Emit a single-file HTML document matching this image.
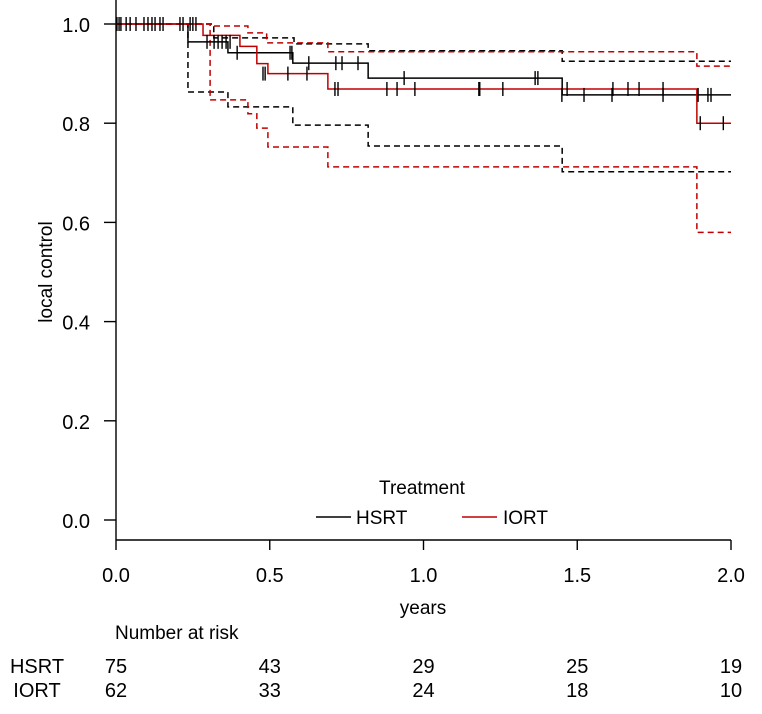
<!DOCTYPE html>
<html><head><meta charset="utf-8"><style>
html,body{margin:0;padding:0;background:#fff}
svg{display:block;font-family:"Liberation Sans",Arial,sans-serif}
</style></head><body>
<svg id="chart" width="762" height="714" viewBox="0 0 762 714">
<g id="axes"></g>
<g id="curves"></g>
<g id="legend">
<text x="422" y="494" font-size="19" text-anchor="middle">Treatment</text>
<line x1="316" y1="517" x2="351" y2="517" stroke="#000" stroke-width="1.4"/>
<text x="356" y="524" font-size="19">HSRT</text>
<line x1="462" y1="517" x2="497" y2="517" stroke="#c00000" stroke-width="1.4"/>
<text x="503" y="524" font-size="19">IORT</text>
</g>
<text transform="translate(52,272) rotate(-90)" font-size="19" text-anchor="middle">local control</text>
<text x="423" y="614" font-size="19" text-anchor="middle">years</text>
<text x="115" y="639" font-size="19">Number at risk</text>
<g id="risk"></g>
</svg>
<script>
const xTicks=[0,0.5,1,1.5,2];
const yTicks=[0,0.2,0.4,0.6,0.8,1.0];
const groups=["HSRT","IORT"];
const riskHSRT=[75,43,29,25,19];
const riskIORT=[62,33,24,18,10];
const hsrtT=[0,0.234,0.364,0.575,0.820,1.451];
const hsrtS=[1.0,0.964,0.942,0.921,0.891,0.857];
const hsrtUpT=[0,0.318,0.579,0.820,1.451];
const hsrtUpS=[1.0,0.972,0.960,0.946,0.925];
const hsrtLoT=[0,0.234,0.364,0.575,0.820,1.451];
const hsrtLoS=[1.0,0.863,0.833,0.796,0.754,0.702];
const iortT=[0,0.283,0.403,0.458,0.494,0.689,1.889];
const iortS=[1.0,0.977,0.955,0.92,0.90,0.869,0.80];
const iortUpT=[0,0.306,0.429,0.49,0.689,1.889];
const iortUpS=[1.0,0.996,0.982,0.962,0.944,0.915];
const iortLoT=[0,0.306,0.429,0.458,0.494,0.689,1.889];
const iortLoS=[1.0,0.847,0.819,0.79,0.752,0.712,0.58];
const hsrtCens=[0.003,0.01,0.016,0.033,0.046,0.065,0.091,0.104,0.117,0.127,0.143,0.153,0.208,0.218,0.241,0.25,0.26,0.296,0.319,0.332,0.345,0.358,0.371,0.394,0.566,0.572,0.627,0.715,0.735,0.787,0.937,1.363,1.372,1.45,1.522,1.613,1.779,1.893,1.925,1.935];
const hsrtCensS=[1,1,1,1,1,1,1,1,1,1,1,1,1,1,1,1,1,0.964,0.964,0.964,0.964,0.964,0.964,0.942,0.942,0.942,0.921,0.921,0.921,0.921,0.891,0.891,0.891,0.857,0.857,0.857,0.857,0.857,0.857,0.857];
const iortCens=[0.478,0.485,0.559,0.621,0.712,0.722,0.881,0.914,0.972,1.18,1.183,1.258,1.467,1.616,1.665,1.701,1.779,1.9,1.975];
const iortCensS=[0.90,0.90,0.90,0.90,0.869,0.869,0.869,0.869,0.869,0.869,0.869,0.869,0.869,0.869,0.869,0.869,0.869,0.80,0.80];
const X=t=>116+307.5*t, Y=s=>520-496*s;
const NS="http://www.w3.org/2000/svg";
function mk(tag,attrs,parent){const e=document.createElementNS(NS,tag);for(const k in attrs)e.setAttribute(k,attrs[k]);parent.appendChild(e);return e;}
const axes=document.getElementById('axes');
let el=mk('line',{x1:116,y1:0,x2:116,y2:540,stroke:'#000','stroke-width':1.4},axes);


el=mk('line',{x1:116,y1:540,x2:731,y2:540,stroke:'#000','stroke-width':1.4},axes);


yTicks.forEach(v=>{
 let t=mk('line',{x1:104,y1:Y(v),x2:116,y2:Y(v),stroke:'#000','stroke-width':1.4},axes);
 
 
 let l=mk('text',{x:90,y:Y(v)+8,'font-size':20,'text-anchor':'end'},axes);l.textContent=v.toFixed(1);
 
 
});
xTicks.forEach(v=>{
 let t=mk('line',{x1:X(v),y1:540,x2:X(v),y2:550,stroke:'#000','stroke-width':1.4},axes);
 
 
 let l=mk('text',{x:X(v),y:582,'font-size':20,'text-anchor':'middle'},axes);l.textContent=v.toFixed(1);
 
 
});
const curves=document.getElementById('curves');
function step(T,S,color,dash,name){
 let d='M'+X(T[0])+','+Y(S[0]);
 for(let i=1;i<T.length;i++){d+=' H'+X(T[i])+' V'+Y(S[i]);}
 d+=' H'+X(2);
 const p=mk('path',{d:d,fill:'none',stroke:color,'stroke-width':1.5},curves);
 if(dash)p.setAttribute('stroke-dasharray','6,4');
 
 
}
step(hsrtUpT,hsrtUpS,'#000',true,'hsrt-upper-ci');
step(hsrtLoT,hsrtLoS,'#000',true,'hsrt-lower-ci');
step(iortUpT,iortUpS,'#c00000',true,'iort-upper-ci');
step(iortLoT,iortLoS,'#c00000',true,'iort-lower-ci');
step(hsrtT,hsrtS,'#000',false,'hsrt-curve');
step(iortT,iortS,'#c00000',false,'iort-curve');
function cens(T,S,name){
 T.forEach((t,i)=>{const m=mk('line',{x1:X(t),y1:Y(S[i])-7,x2:X(t),y2:Y(S[i])+7,stroke:'#000','stroke-width':1.4},curves);
 
 });
}
cens(hsrtCens,hsrtCensS,'hsrt-censor-mark');
cens(iortCens,iortCensS,'iort-censor-mark');
const risk=document.getElementById('risk');
[[riskHSRT,673,'HSRT'],[riskIORT,697,'IORT']].forEach(([arr,y,g])=>{
 const lab=mk('text',{x:37,y:y,'font-size':20,'text-anchor':'middle'},risk);lab.textContent=g;
 
 
 arr.forEach((n,i)=>{const t=mk('text',{x:X(xTicks[i]),y:y,'font-size':20,'text-anchor':'middle'},risk);t.textContent=n;
 
 });
});
</script>
</body></html>
